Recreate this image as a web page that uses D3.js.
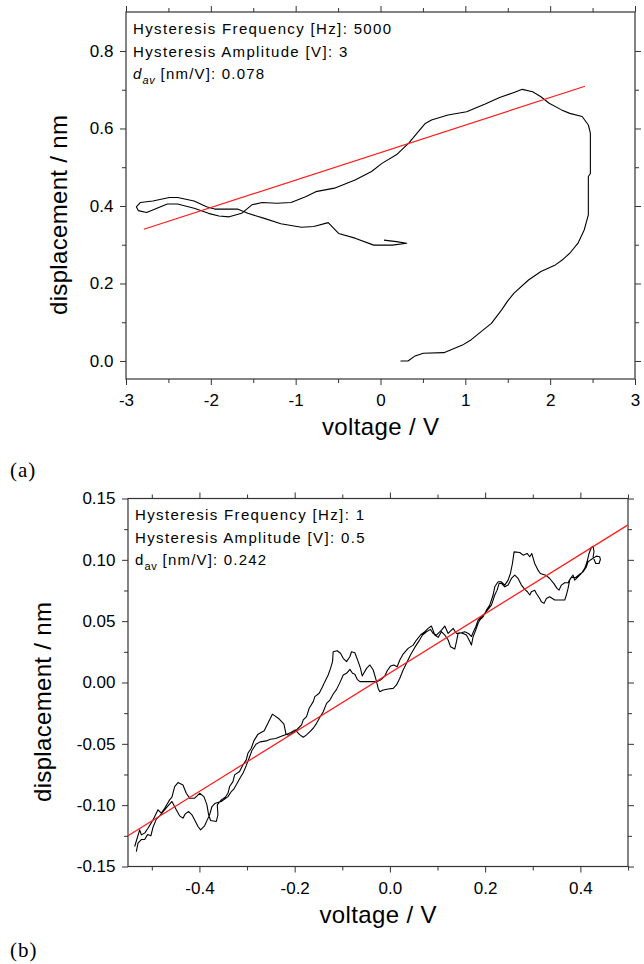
<!DOCTYPE html>
<html><head><meta charset="utf-8">
<script src="https://cdn.jsdelivr.net/npm/d3@7"></script>
<style>body{margin:0;background:#fff}svg{display:block}</style>
</head><body>
<svg id="c" width="644" height="964"></svg>
<script>
// ---------- Panel (a) data: [voltage V, displacement nm] ----------
const aCurve = [[0.236,0.0],[0.324,0.0],[0.40,0.012],[0.504,0.0198],[0.747,0.0215],[0.966,0.041],[1.07,0.055],[1.161,0.0714],[1.307,0.097],[1.428,0.132],[1.50,0.155],[1.574,0.175],[1.745,0.209],[1.891,0.231],[2.061,0.248],[2.15,0.262],[2.231,0.278],[2.328,0.304],[2.401,0.338],[2.45,0.377],[2.45,0.476],[2.474,0.484],[2.474,0.588],[2.45,0.609],[2.377,0.631],[2.231,0.639],[2.134,0.648],[1.988,0.665],[1.891,0.682],[1.793,0.695],[1.672,0.701],[1.574,0.693],[1.404,0.68],[1.234,0.663],[1.015,0.643],[0.796,0.635],[0.601,0.622],[0.528,0.613],[0.431,0.588],[0.333,0.562],[0.187,0.532],[0.017,0.51],[-0.105,0.489],[-0.3,0.467],[-0.543,0.446],[-0.762,0.437],[-0.883,0.424],[-1.054,0.409],[-1.224,0.407],[-1.394,0.409],[-1.516,0.403],[-1.637,0.381],[-1.783,0.372],[-1.905,0.374],[-2.027,0.381],[-2.197,0.394],[-2.392,0.405],[-2.513,0.405],[-2.635,0.394],[-2.757,0.383],[-2.854,0.388],[-2.878,0.398],[-2.83,0.409],[-2.684,0.413],[-2.489,0.422],[-2.392,0.422],[-2.197,0.413],[-2.051,0.398],[-1.954,0.392],[-1.686,0.392],[-1.564,0.381],[-1.37,0.368],[-1.175,0.354],[-0.932,0.345],[-0.786,0.347],[-0.616,0.357],[-0.494,0.329],[-0.3,0.317],[-0.08,0.299],[0.139,0.299],[0.309,0.304],[0.187,0.308],[0.041,0.312]];
const aFit = [[-2.79,0.340],[2.41,0.709]];
const aXTicks = [-3,-2,-1,0,1,2,3];
const aXLabels = ["-3","-2","-1","0","1","2","3"];
const aXMinor = [-2.5,-1.5,-0.5,0.5,1.5,2.5];
const aYTicks = [0,0.2,0.4,0.6,0.8];
const aYLabels = ["0.0","0.2","0.4","0.6","0.8"];
const aYMinor = [0.1,0.3,0.5,0.7];
const aNotes = ["Hysteresis Frequency [Hz]: 5000","Hysteresis Amplitude [V]: 3"," [nm/V]: 0.078"];

// ---------- Panel (b) data ----------
const bUpper = [[-0.536,-0.1337],[-0.5255,-0.1201],[-0.522,-0.1242],[-0.515,-0.1228],[-0.508,-0.1188],[-0.4975,-0.112],[-0.487,-0.1038],[-0.48,-0.1065],[-0.473,-0.1025],[-0.4626,-0.0957],[-0.4577,-0.0935],[-0.452,-0.0848],[-0.445,-0.0816],[-0.4346,-0.0835],[-0.4276,-0.0903],[-0.4206,-0.0943],[-0.41,-0.0943],[-0.3996,-0.0903],[-0.3905,-0.093],[-0.3842,-0.0998],[-0.3807,-0.1079],[-0.3765,-0.1125],[-0.3646,-0.1133],[-0.3611,-0.1079],[-0.3625,-0.0998],[-0.3541,-0.0957],[-0.3457,-0.0935],[-0.3401,-0.0903],[-0.3366,-0.0848],[-0.3296,-0.0808],[-0.3261,-0.0753],[-0.3157,-0.0726],[-0.3087,-0.0672],[-0.3017,-0.0631],[-0.2982,-0.0577],[-0.2912,-0.0536],[-0.2857,-0.0476],[-0.277,-0.0421],[-0.264,-0.0394],[-0.2554,-0.0326],[-0.2468,-0.0258],[-0.2338,-0.0293],[-0.2225,-0.034],[-0.2182,-0.0421],[-0.2121,-0.043],[-0.1995,-0.04],[-0.1925,-0.0373],[-0.1855,-0.0346],[-0.182,-0.0305],[-0.175,-0.0278],[-0.1695,-0.021],[-0.161,-0.0156],[-0.1576,-0.0115],[-0.1485,-0.0088],[-0.1415,-0.0034],[-0.1366,0.0007],[-0.1296,0.0061],[-0.1247,0.0115],[-0.1205,0.017],[-0.1191,0.0251],[-0.1107,0.0259],[-0.1037,0.0238],[-0.0981,0.0197],[-0.0911,0.017],[-0.0841,0.021],[-0.0806,0.0251],[-0.0736,0.0243],[-0.0666,0.017],[-0.0617,0.0115],[-0.0582,0.0053],[-0.049,0.0115],[-0.042,0.0143],[-0.035,0.0102],[-0.028,0.0007],[-0.0246,-0.0048],[-0.0211,-0.0075],[-0.0141,-0.0061],[-0.0037,-0.0053],[0.0069,-0.0048],[0.0138,-0.002],[0.0208,0.0034],[0.0278,0.0102],[0.0348,0.0156],[0.0432,0.0224],[0.0523,0.0286],[0.0615,0.0341],[0.0684,0.0387],[0.0768,0.0414],[0.0852,0.0433],[0.0908,0.04],[0.0978,0.0387],[0.1083,0.0427],[0.1153,0.046],[0.1223,0.04],[0.1328,0.0441],[0.1398,0.04],[0.1467,0.0406],[0.1537,0.04],[0.1607,0.0387],[0.1663,0.0346],[0.1712,0.0305],[0.1747,0.0373],[0.1803,0.0427],[0.1852,0.0482],[0.1887,0.0509],[0.1957,0.0536],[0.2027,0.059],[0.2097,0.0631],[0.2167,0.0713],[0.2202,0.078],[0.2272,0.0821],[0.2342,0.0821],[0.2412,0.0794],[0.2482,0.0835],[0.2531,0.0889],[0.2573,0.097],[0.2608,0.1065],[0.2727,0.106],[0.2797,0.1038],[0.2881,0.1052],[0.2937,0.1025],[0.2979,0.1052],[0.3041,0.097],[0.3111,0.0916],[0.316,0.0889],[0.3272,0.0875],[0.3356,0.0848],[0.344,0.0808],[0.351,0.0767],[0.3552,0.0753],[0.3601,0.0794],[0.3671,0.0813],[0.3741,0.0813],[0.379,0.0848],[0.3846,0.0875],[0.3881,0.0835],[0.3951,0.0862],[0.4021,0.0889],[0.4091,0.093],[0.414,0.0984],[0.4182,0.1052],[0.4231,0.1101],[0.4266,0.1112],[0.4287,0.1066],[0.4266,0.1025],[0.4322,0.097],[0.4392,0.097],[0.442,0.1003],[0.4406,0.1025]];
const bLower = [[0.4336,0.103],[0.421,0.0998],[0.4161,0.0984],[0.4126,0.0943],[0.4056,0.0902],[0.3986,0.0883],[0.3902,0.0856],[0.3811,0.0856],[0.3776,0.0835],[0.3741,0.0767],[0.3706,0.0713],[0.3671,0.0672],[0.3461,0.0672],[0.3356,0.0699],[0.3286,0.0685],[0.3237,0.0645],[0.3181,0.0658],[0.3146,0.0685],[0.3076,0.0726],[0.3041,0.0753],[0.2971,0.074],[0.2937,0.0713],[0.2888,0.074],[0.2832,0.0759],[0.2762,0.0794],[0.2692,0.0848],[0.2622,0.0875],[0.2552,0.0848],[0.2482,0.0794],[0.2412,0.078],[0.2342,0.0808],[0.2293,0.0808],[0.2251,0.0753],[0.2202,0.0713],[0.2167,0.0672],[0.2132,0.0631],[0.2062,0.0596],[0.1992,0.0563],[0.1922,0.0536],[0.1852,0.0509],[0.1803,0.0455],[0.175,0.041],[0.1712,0.0375],[0.165,0.04],[0.1572,0.0414],[0.1502,0.0406],[0.1432,0.04],[0.1398,0.0333],[0.1362,0.0273],[0.1272,0.0292],[0.1223,0.0346],[0.1153,0.0387],[0.1083,0.0414],[0.1013,0.0368],[0.0943,0.0387],[0.0873,0.046],[0.0803,0.0441],[0.0733,0.0414],[0.0642,0.0387],[0.0558,0.0346],[0.0488,0.0305],[0.0383,0.0278],[0.0278,0.0232],[0.0208,0.0183],[0.0152,0.0129],[0.0082,0.0143],[0.0013,0.0134],[-0.0057,0.0096],[-0.0106,0.0053],[-0.0197,0.002],[-0.0281,0.0007],[-0.0561,0.0007],[-0.0631,0.0007],[-0.0687,0.0026],[-0.0736,0.0067],[-0.0785,0.0075],[-0.084,0.0107],[-0.091,0.0075],[-0.098,0.0061],[-0.105,-0.0001],[-0.112,-0.0056],[-0.119,-0.0094],[-0.126,-0.0143],[-0.133,-0.017],[-0.14,-0.0238],[-0.147,-0.0284],[-0.154,-0.0333],[-0.161,-0.0373],[-0.168,-0.04],[-0.175,-0.0427],[-0.182,-0.0446],[-0.189,-0.0427],[-0.1991,-0.0386],[-0.2078,-0.0408],[-0.2165,-0.0421],[-0.2294,-0.044],[-0.2398,-0.0457],[-0.2511,-0.0462],[-0.2597,-0.0476],[-0.2727,-0.0484],[-0.2814,-0.0503],[-0.29,-0.0557],[-0.296,-0.062],[-0.302,-0.068],[-0.308,-0.0735],[-0.315,-0.078],[-0.322,-0.083],[-0.328,-0.087],[-0.333,-0.0889],[-0.34,-0.093],[-0.3541,-0.097],[-0.3667,-0.0984],[-0.3737,-0.1011],[-0.3786,-0.1079],[-0.3835,-0.112],[-0.3891,-0.1168],[-0.3975,-0.1201],[-0.403,-0.1174],[-0.41,-0.112],[-0.4157,-0.1079],[-0.4227,-0.1052],[-0.4297,-0.1071],[-0.4346,-0.1106],[-0.4416,-0.1087],[-0.4486,-0.1038],[-0.4577,-0.097],[-0.466,-0.1006],[-0.4744,-0.1044],[-0.4835,-0.1087],[-0.4905,-0.1114],[-0.4975,-0.118],[-0.502,-0.125],[-0.509,-0.124],[-0.515,-0.128],[-0.522,-0.128],[-0.529,-0.131],[-0.5325,-0.1378]];
const bFit = [[-0.55,-0.125],[0.5,0.1285]];
const bXTicks = [-0.4,-0.2,0,0.2,0.4];
const bXLabels = ["-0.4","-0.2","0.0","0.2","0.4"];
const bXMinor = [-0.5,-0.3,-0.1,0.1,0.3,0.5];
const bYTicks = [-0.15,-0.1,-0.05,0,0.05,0.1,0.15];
const bYLabels = ["-0.15","-0.10","-0.05","0.00","0.05","0.10","0.15"];
const bYMinor = [-0.125,-0.075,-0.025,0.025,0.075,0.125];
const bNotes = ["Hysteresis Frequency [Hz]: 1","Hysteresis Amplitude [V]: 0.5"," [nm/V]: 0.242"];

const FONT = "'Liberation Sans', Arial, Helvetica, sans-serif";
const svg = d3.select("#c");

function panel(o) {
  const g = svg.append("g");
  const x = d3.scaleLinear().domain(o.xd).range([o.l, o.r]);
  const y = d3.scaleLinear().domain(o.yd).range([o.b, o.t]);
  const tickCol = "#333";
  function ax(gen, tr, vals, size, labels, pad) {
    const a = gen.tickValues(vals).tickSize(size).tickPadding(pad || 3)
      .tickFormat(labels ? (d, i) => labels[i] : "");
    const s = g.append("g").attr("transform", tr).call(a);
    s.select(".domain").remove();
    s.selectAll("line").attr("stroke", tickCol).attr("stroke-width", 1);
    s.selectAll("text").attr("font-family", FONT).attr("font-size", 17).attr("fill", "#000");
    return s;
  }
  ax(d3.axisBottom(x), `translate(0,${o.b})`, o.xt, 6, o.xl, 9);
  ax(d3.axisBottom(x), `translate(0,${o.b})`, o.xm, 4);
  ax(d3.axisTop(x), `translate(0,${o.t})`, o.xt, 6);
  ax(d3.axisTop(x), `translate(0,${o.t})`, o.xm, 4);
  ax(d3.axisLeft(y), `translate(${o.l},0)`, o.yt, 6, o.yl, 6.5);
  ax(d3.axisLeft(y), `translate(${o.l},0)`, o.ym, 4);
  ax(d3.axisRight(y), `translate(${o.r},0)`, o.yt, 6);
  ax(d3.axisRight(y), `translate(${o.r},0)`, o.ym, 4);
  g.append("rect").attr("x", o.l).attr("y", o.t).attr("width", o.r - o.l).attr("height", o.b - o.t)
    .attr("fill", "none").attr("stroke", "#333").attr("stroke-width", 1.2);
  const line = d3.line().x(d => x(d[0])).y(d => y(d[1]));
  g.append("path").attr("d", line(o.curve)).attr("fill", "none").attr("stroke", "#000")
    .attr("stroke-width", 1.1).attr("stroke-linejoin", "round");
  g.append("path").attr("d", line(o.fit)).attr("fill", "none").attr("stroke", "#ff1a1a").attr("stroke-width", 1.2);
  // annotations
  const nx = o.l + 7;
  o.notes.slice(0, 2).forEach((t, i) => {
    g.append("text").attr("x", nx).attr("y", o.nb[i]).attr("font-family", FONT).attr("font-size", 15)
      .attr("letter-spacing", 1.35).text(t);
  });
  const t3 = g.append("text").attr("x", nx).attr("y", o.nb[2]).attr("font-family", FONT).attr("font-size", 15).attr("letter-spacing", 1.2);
  t3.append("tspan").attr("font-style", o.ital ? "italic" : "normal").text("d");
  t3.append("tspan").attr("font-style", o.ital ? "italic" : "normal").attr("font-size", 11).attr("dy", 5).attr("letter-spacing", 0.5).text("av");
  t3.append("tspan").attr("dy", -5).text(o.notes[2]);
  // axis titles
  g.append("text").attr("x", (o.l + o.r) / 2).attr("y", o.b + 56).attr("text-anchor", "middle")
    .attr("font-family", FONT).attr("font-size", 24).attr("textLength", 117).attr("lengthAdjust", "spacing").text("voltage / V");
  g.append("text").attr("transform", `translate(${o.ytx},${o.yty}) rotate(-90)`).attr("text-anchor", "middle")
    .attr("font-family", FONT).attr("font-size", 24).attr("textLength", 200).attr("lengthAdjust", "spacing").text("displacement / nm");
  svg.append("text").attr("x", 10).attr("y", o.tagY).attr("font-family", "'Liberation Serif', 'Times New Roman', serif")
    .attr("font-size", 21).attr("letter-spacing", 1).text(o.tag);
}

panel({l: 126, r: 635, t: 12, b: 379, xd: [-3, 3], yd: [-0.0465, 0.9006],
  xt: aXTicks, xl: aXLabels, xm: aXMinor, yt: aYTicks, yl: aYLabels, ym: aYMinor,
  curve: aCurve, fit: aFit, notes: aNotes, nb: [33.5, 56.5, 78.5], ital: true,
  ytx: 67, yty: 215, tag: "(a)", tagY: 477});

panel({l: 128, r: 628, t: 498.5, b: 866.5, xd: [-0.55, 0.5], yd: [-0.15, 0.15],
  xt: bXTicks, xl: bXLabels, xm: bXMinor, yt: bYTicks, yl: bYLabels, ym: bYMinor,
  curve: bUpper.concat(bLower), fit: bFit, notes: bNotes, nb: [519.5, 543, 564.5], ital: false,
  ytx: 51, yty: 702, tag: "(b)", tagY: 957});
</script>
</body></html>
